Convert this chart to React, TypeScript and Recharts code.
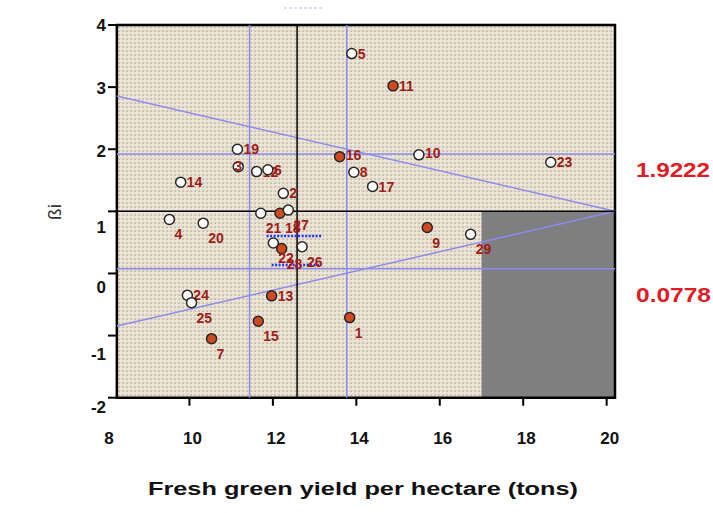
import {
  ScatterChart,
  Scatter,
  XAxis,
  YAxis,
  ReferenceArea,
  ReferenceLine,
} from "recharts";

const FONT = '"Liberation Sans", Arial, sans-serif';

// axis ticks
const xTicks = [8, 10, 12, 14, 16, 18, 20];
const yTicks = [-2, -1, 0, 1, 2, 3, 4];

// genotypes drawn as open circles
const openIds = ["5", "19", "3", "12", "6", "14", "10", "8", "17", "23", "2", "27", "21", "4", "20", "22", "26", "29", "24", "25"];
const openX = [13.89, 11.15, 11.17, 11.61, 11.88, 9.79, 15.5, 13.94, 14.39, 18.66, 12.25, 12.37, 11.71, 9.52, 10.33, 12.01, 12.7, 16.74, 9.95, 10.05];
const openY = [3.54, 2.0, 1.72, 1.64, 1.67, 1.47, 1.91, 1.63, 1.4, 1.79, 1.29, 1.02, 0.97, 0.87, 0.81, 0.49, 0.43, 0.63, -0.35, -0.47];

// genotypes drawn as filled circles
const filledIds = ["11", "16", "18", "28", "9", "13", "15", "7", "1"];
const filledX = [14.88, 13.6, 12.17, 12.21, 15.7, 11.97, 11.65, 10.53, 13.84];
const filledY = [3.02, 1.88, 0.97, 0.4, 0.74, -0.36, -0.77, -1.05, -0.71];

// reference values
const upperLimit = 1.9222;
const lowerLimit = 0.0778;
const meanBeta = 1;
const meanYield = 12.58;
const yieldLow = 11.44;
const yieldHigh = 13.77;
const greyFrom = 17;
const upperDiagStart = 2.857;
const lowerDiagStart = -0.847;

// frame of the plot box (a bit inside the x domain, as in the original)
const FRAME_X0 = 8.26;
const FRAME_X1 = 20.2;

const labelSide: Record<string, string> = {
  "3": "c",
  "16": "ru",
  "10": "ru",
  "4": "br", "20": "br", "21": "br", "18": "br", "27": "br", "22": "br",
  "28": "br", "26": "br", "25": "br", "15": "br", "7": "br", "9": "br",
  "29": "br", "1": "br",
};
const labelOffset: Record<string, [number, number]> = {
  r: [6, 2],
  ru: [6, 0],
  br: [5, 17],
  c: [-4, 1],
};

const yLabelShift: Record<string, number> = { "4": 0, "3": 1, "2": 2, "1": 16, "0": 14, "-1": 18, "-2": 9 };

const toPoints = (ids: string[], xs: number[], ys: number[]) =>
  ids.map((id, i) => ({ id, x: xs[i], y: ys[i] }));

const openData = toPoints(openIds, openX, openY);
const filledData = toPoints(filledIds, filledX, filledY);

const makeShape = (fill: string) => (props: any) => {
  const { cx, cy, payload } = props;
  const [dx, dy] = labelOffset[labelSide[payload.id] || "r"];
  return (
    <g>
      <circle cx={cx} cy={cy} r={5} fill={fill} stroke="#262626" strokeWidth={1.5} />
      <text
        x={cx + dx}
        y={cy + dy + 3}
        fontFamily={FONT}
        fontWeight="bold"
        fontSize={14}
        fill="#a01c18"
      >
        {payload.id}
      </text>
    </g>
  );
};

const XTick = (props: any) => {
  const { x, y, payload } = props;
  return (
    <g>
      {payload.value !== 8 && (
        <line x1={x} x2={x} y1={y} y2={y + 8} stroke="#000" strokeWidth={2} />
      )}
      <text
        x={x + 3}
        y={y + 46}
        textAnchor="middle"
        fontFamily={FONT}
        fontWeight="bold"
        fontSize={17}
        fill="#111"
      >
        {payload.value}
      </text>
    </g>
  );
};

const YTick = (props: any) => {
  const { x, y, payload } = props;
  const shift = yLabelShift[String(payload.value)] || 0;
  return (
    <g>
      <line x1={x + 2} x2={x + 11} y1={y} y2={y} stroke="#000" strokeWidth={2} />
      <text
        x={x}
        y={y + 6 + shift}
        textAnchor="end"
        fontFamily={FONT}
        fontWeight="bold"
        fontSize={17}
        fill="#111"
      >
        {payload.value}
      </text>
    </g>
  );
};

const blue = "#8c8cee";

export default function App() {
  return (
    <div
      style={{
        position: "absolute",
        left: 0,
        top: 0,
        width: 713,
        height: 513,
        background: "#fff",
      }}
    >
      <ScatterChart
        width={713}
        height={513}
        margin={{ top: 25, right: 98, bottom: 65.3, left: 0 }}
      >
        <defs>
          <pattern id="linen" width="4" height="4" patternUnits="userSpaceOnUse">
            <rect width="4" height="4" fill="#d6cdb9" />
            <rect x="0" y="0" width="2" height="4" fill="#e6dfd0" />
            <rect x="0" y="0" width="4" height="2" fill="#e9e2d4" />
            <rect x="0" y="0" width="1" height="1" fill="#f6f2ea" />
            <rect x="3" y="3" width="1" height="1" fill="#bfb5a0" />
          </pattern>
        </defs>
        <XAxis
          type="number"
          dataKey="x"
          domain={[8, FRAME_X1]}
          ticks={xTicks}
          interval={0}
          tick={<XTick />}
          tickLine={false}
          axisLine={false}
          tickSize={0}
          tickMargin={0}
          height={50}
          allowDataOverflow
        />
        <YAxis
          type="number"
          dataKey="y"
          domain={[-2, 4]}
          ticks={yTicks}
          interval={0}
          tick={<YTick />}
          tickLine={false}
          axisLine={false}
          tickSize={0}
          tickMargin={0}
          width={106}
          allowDataOverflow
        />
        <ReferenceArea
          x1={FRAME_X0}
          x2={FRAME_X1}
          y1={-2}
          y2={4}
          fill="url(#linen)"
          fillOpacity={1}
          stroke="none"
        />
        <ReferenceArea
          x1={greyFrom}
          x2={FRAME_X1}
          y1={-2}
          y2={meanBeta}
          fill="#7f7f7f"
          fillOpacity={1}
          stroke="none"
        />
        <ReferenceLine
          segment={[{ x: FRAME_X0, y: upperLimit }, { x: FRAME_X1, y: upperLimit }]}
          stroke={blue}
          strokeWidth={1.5}
        />
        <ReferenceLine
          segment={[{ x: FRAME_X0, y: lowerLimit }, { x: FRAME_X1, y: lowerLimit }]}
          stroke={blue}
          strokeWidth={1.5}
        />
        <ReferenceLine
          segment={[{ x: yieldLow, y: -2 }, { x: yieldLow, y: 4 }]}
          stroke={blue}
          strokeWidth={1.5}
        />
        <ReferenceLine
          segment={[{ x: yieldHigh, y: -2 }, { x: yieldHigh, y: 4 }]}
          stroke={blue}
          strokeWidth={1.5}
        />
        <ReferenceLine
          segment={[{ x: FRAME_X0, y: upperDiagStart }, { x: FRAME_X1, y: meanBeta }]}
          stroke={blue}
          strokeWidth={1.5}
        />
        <ReferenceLine
          segment={[{ x: FRAME_X0, y: lowerDiagStart }, { x: FRAME_X1, y: meanBeta }]}
          stroke={blue}
          strokeWidth={1.5}
        />
        <ReferenceLine
          segment={[{ x: FRAME_X0, y: meanBeta }, { x: FRAME_X1, y: meanBeta }]}
          stroke="#000"
          strokeWidth={1.5}
        />
        <ReferenceLine
          segment={[{ x: meanYield, y: -2 }, { x: meanYield, y: 4 }]}
          stroke="#000"
          strokeWidth={1.5}
        />
        <ReferenceLine
          segment={[{ x: 11.85, y: 0.602 }, { x: 13.16, y: 0.602 }]}
          stroke="#2233ff"
          strokeWidth={2.5}
          strokeDasharray="2 1.5"
        />
        <ReferenceLine
          segment={[{ x: 11.97, y: 0.135 }, { x: 13.16, y: 0.135 }]}
          stroke="#2233ff"
          strokeWidth={2.5}
          strokeDasharray="2 1.5"
        />
        <ReferenceArea
          x1={FRAME_X0}
          x2={FRAME_X1}
          y1={-2}
          y2={4}
          fill="none"
          fillOpacity={0}
          stroke="#000"
          strokeWidth={2.5}
        />
        <Scatter data={filledData} shape={makeShape("#cf4a1f")} isAnimationActive={false} />
        <Scatter data={openData} shape={makeShape("#ffffff")} isAnimationActive={false} />
      </ScatterChart>
      <svg
        width={713}
        height={513}
        style={{ position: "absolute", left: 0, top: 0, pointerEvents: "none" }}
      >
        <line x1={284} x2={322} y1={8} y2={8} stroke="#c9b3e6" strokeWidth={1} strokeDasharray="3 2" />
        <text
          x={363}
          y={495}
          textAnchor="middle"
          fontFamily={FONT}
          fontWeight="bold"
          fontSize={18}
          fill="#111"
          textLength={430}
          lengthAdjust="spacingAndGlyphs"
        >
          Fresh green yield per hectare (tons)
        </text>
        <text
          x={0}
          y={0}
          transform="translate(61,212) rotate(-90)"
          textAnchor="middle"
          fontFamily={FONT}
          fontSize={19}
          fill="#333"
        >
          ßi
        </text>
        <text
          x={636}
          y={176.5}
          fontFamily={FONT}
          fontWeight="bold"
          fontSize={21}
          fill="#e01b24"
          textLength={74}
          lengthAdjust="spacingAndGlyphs"
        >
          {upperLimit.toFixed(4)}
        </text>
        <text
          x={636}
          y={301.5}
          fontFamily={FONT}
          fontWeight="bold"
          fontSize={21}
          fill="#e01b24"
          textLength={75}
          lengthAdjust="spacingAndGlyphs"
        >
          {lowerLimit.toFixed(4)}
        </text>
      </svg>
    </div>
  );
}
